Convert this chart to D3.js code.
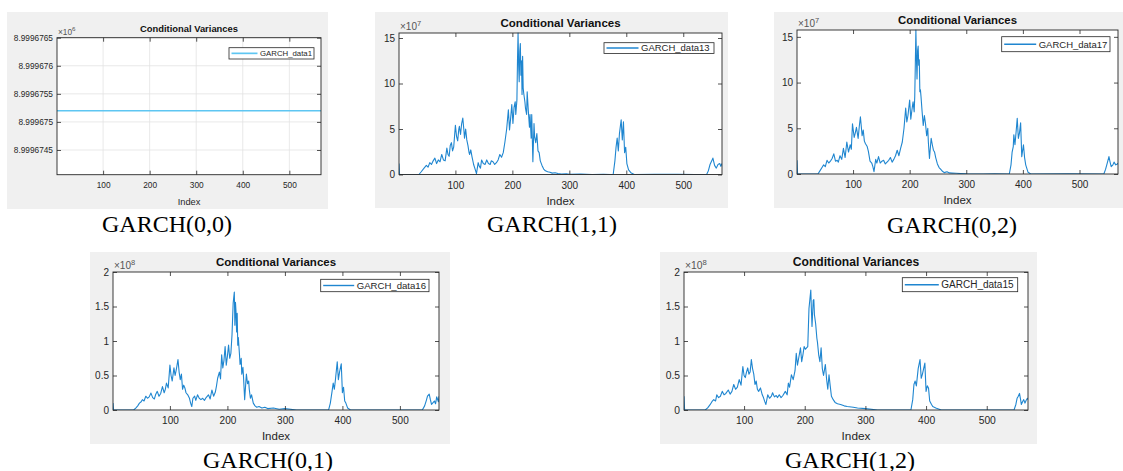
<!DOCTYPE html>
<html>
<head>
<meta charset="utf-8">
<script src="https://cdn.jsdelivr.net/npm/d3@7"></script>
<style>
  body { margin: 0; background: #fff; }
  svg { display: block; }
</style>
</head>
<body>
<svg id="chart" width="1123" height="471"></svg>
<script>
// conditional variances, [index, value] (values in units of the axis exponent)
const garch00 = [[1, 8.9996752], [568, 8.9996752]];

const garch11 = [[1,1.2],[2,0],[36,0],[40,0.3],[45,0.7],[49,1.0],[52,0.8],[55,1.3],[58,1.1],[61,1.5],[64,1.8],[67,1.2],[70,1.6],[73,1.4],[76,2.2],[79,1.6],[82,1.5],[85,2.9],[87,2.2],[89,2.0],[91,3.2],[93,3.5],[95,2.6],[97,3.0],[100,5.4],[102,4.2],[104,3.7],[106,5.0],[107,5.3],[109,4.4],[111,5.6],[113,6.2],[115,4.8],[116,4.0],[118,5.0],[120,3.8],[122,3.2],[124,2.4],[125,2.2],[127,2.7],[129,2.0],[132,1.1],[135,0.5],[137,0.1],[140,1.3],[142,0.9],[144,0.7],[146,1.6],[149,1.2],[152,1.1],[155,1.6],[158,1.2],[161,1.1],[163,1.5],[166,1.4],[169,1.1],[172,1.3],[175,1.6],[178,2.2],[181,1.9],[184,2.4],[187,3.6],[190,5.0],[193,7.1],[195,4.9],[197,6.2],[199,7.7],[201,5.6],[203,7.4],[205,8.0],[206,6.6],[208,8.2],[209,12.5],[210,15.55],[211,12.0],[212,10.2],[213,13.5],[214,14.4],[215,10.9],[216,12.5],[217,8.8],[218,13.0],[219,9.5],[220,8.9],[222,8.0],[223,7.3],[225,6.6],[226,9.1],[228,7.0],[230,5.2],[231,6.6],[233,4.0],[234,6.6],[235,4.0],[236,1.4],[238,5.6],[239,4.2],[241,3.5],[243,4.5],[245,2.6],[247,2.4],[249,1.5],[252,1.0],[255,0.6],[258,0.4],[262,0.3],[266,0.25],[270,0.15],[275,0.2],[280,0.1],[286,0.05],[295,0.08],[300,0.02],[320,0.04],[340,0],[360,0.03],[372,0],[377,0],[380,1.5],[382,3.0],[384,4.0],[386,2.6],[388,4.5],[391,6.0],[393,3.8],[395,5.8],[397,2.4],[399,3.0],[401,1.2],[404,0.5],[408,0.2],[414,0],[450,0.02],[490,0.03],[520,0],[541,0],[544,0.4],[547,1.1],[550,1.5],[552,1.8],[555,1.0],[558,0.7],[561,1.1],[564,1.2],[566,0.9],[568,1.2]];

const garch02 = [[1,1.5],[2,0],[38,0],[42,0.4],[46,0.8],[48,1.0],[51,0.8],[54,1.5],[57,1.2],[60,1.4],[63,1.7],[66,2.2],[69,1.4],[72,1.5],[74,1.3],[77,2.0],[80,1.6],[83,2.8],[86,1.8],[89,3.5],[92,2.4],[95,3.2],[97,2.7],[99,5.5],[102,4.0],[104,4.5],[106,5.1],[109,3.9],[111,5.2],[113,6.25],[115,4.9],[116,4.2],[118,4.8],[120,3.6],[122,3.3],[125,3.0],[127,2.5],[130,1.4],[133,1.2],[135,0.8],[137,0.25],[140,1.6],[142,1.2],[145,1.9],[148,1.2],[151,1.4],[154,1.5],[157,1.1],[160,1.3],[163,1.5],[166,1.8],[169,1.3],[172,1.6],[175,2.0],[178,2.6],[181,2.0],[184,2.8],[187,3.5],[190,5.0],[193,7.2],[195,5.7],[197,6.4],[200,8.1],[202,6.0],[204,7.0],[206,7.9],[208,6.8],[209,8.5],[210,12.0],[211,15.75],[212,12.5],[213,10.4],[214,13.5],[215,14.0],[216,11.9],[217,12.5],[218,9.0],[219,9.2],[220,8.5],[222,6.8],[224,5.3],[226,6.4],[228,5.5],[230,4.2],[232,5.0],[233,3.5],[235,1.7],[237,3.2],[238,3.9],[240,3.2],[242,2.6],[244,2.4],[246,1.8],[249,1.1],[252,0.7],[255,0.5],[258,0.3],[261,0.15],[266,0.25],[270,0.12],[275,0.1],[282,0.08],[290,0.05],[300,0.02],[330,0],[350,0.03],[376,0],[379,1.0],[381,2.4],[383,3.0],[384,4.3],[386,3.2],[388,4.6],[390,6.1],[392,3.9],[394,4.5],[396,5.6],[398,1.9],[401,3.2],[403,1.8],[405,1.0],[409,0.2],[414,0],[480,0.02],[543,0],[546,0.5],[549,1.2],[552,1.9],[554,1.3],[556,0.8],[559,1.0],[561,1.3],[564,1.0],[567,1.1],[568,1.2]];

const garch01 = [[1,0.1],[2,0],[37,0],[41,0.03],[44,0.06],[47,0.10],[50,0.12],[52,0.15],[55,0.13],[58,0.20],[61,0.17],[64,0.19],[67,0.245],[70,0.18],[73,0.16],[75,0.22],[78,0.27],[81,0.20],[84,0.24],[87,0.34],[90,0.25],[92,0.30],[94,0.39],[97,0.32],[100,0.65],[102,0.50],[104,0.42],[107,0.61],[109,0.50],[111,0.58],[114,0.73],[116,0.55],[118,0.44],[120,0.52],[122,0.30],[124,0.36],[126,0.32],[128,0.25],[131,0.22],[134,0.17],[136,0.10],[138,0.05],[140,0.17],[143,0.20],[145,0.14],[148,0.22],[151,0.17],[154,0.15],[157,0.17],[160,0.14],[163,0.18],[167,0.22],[170,0.16],[173,0.29],[176,0.20],[179,0.26],[181,0.35],[183,0.46],[186,0.55],[188,0.45],[190,0.80],[192,0.61],[194,0.72],[196,0.92],[198,0.65],[200,0.78],[202,0.94],[204,0.75],[206,0.82],[208,1.09],[210,1.55],[212,1.71],[213,1.23],[214,1.56],[215,1.42],[216,1.13],[217,1.40],[218,0.94],[219,1.05],[221,0.80],[222,0.66],[224,0.75],[225,0.52],[227,0.62],[228,0.48],[230,0.15],[232,0.40],[233,0.52],[235,0.38],[237,0.42],[238,0.30],[240,0.17],[242,0.22],[245,0.10],[248,0.06],[251,0.04],[255,0.05],[260,0.03],[265,0.04],[270,0.02],[280,0.03],[290,0.01],[300,0.02],[320,0],[376,0],[379,0.1],[382,0.27],[384,0.39],[386,0.30],[388,0.45],[391,0.70],[393,0.44],[395,0.55],[398,0.67],[400,0.25],[402,0.33],[404,0.13],[406,0.10],[409,0.03],[414,0],[539,0],[543,0.06],[546,0.14],[548,0.2],[551,0.23],[553,0.15],[555,0.08],[558,0.11],[560,0.13],[562,0.09],[564,0.19],[567,0.12],[568,0.2]];

const garch12 = [[1,0.2],[2,0],[36,0],[40,0.03],[44,0.077],[47,0.12],[50,0.15],[53,0.13],[55,0.22],[58,0.18],[61,0.20],[64,0.27],[67,0.22],[70,0.24],[74,0.29],[77,0.23],[80,0.27],[83,0.37],[86,0.30],[89,0.33],[92,0.44],[95,0.36],[98,0.63],[100,0.50],[102,0.47],[104,0.55],[106,0.61],[108,0.52],[110,0.55],[112,0.73],[114,0.60],[116,0.52],[118,0.37],[120,0.42],[122,0.30],[124,0.27],[127,0.32],[130,0.22],[132,0.18],[134,0.125],[136,0.08],[139,0.22],[142,0.17],[145,0.20],[147,0.25],[150,0.19],[153,0.21],[155,0.18],[158,0.22],[161,0.18],[164,0.21],[168,0.27],[171,0.22],[173,0.39],[175,0.33],[178,0.51],[181,0.44],[184,0.57],[186,0.82],[188,0.65],[190,0.75],[193,0.90],[195,0.70],[197,0.80],[199,0.92],[201,0.88],[203,0.90],[205,0.92],[207,1.47],[210,1.74],[211,1.45],[212,1.21],[214,1.59],[215,1.60],[216,1.38],[218,1.25],[220,1.04],[221,0.98],[223,0.80],[225,0.70],[227,0.90],[229,0.60],[231,0.50],[234,0.66],[236,0.45],[238,0.30],[240,0.51],[242,0.35],[244,0.20],[247,0.15],[250,0.11],[254,0.09],[259,0.08],[265,0.06],[270,0.05],[280,0.04],[287,0.03],[300,0.02],[320,0],[375,0],[378,0.15],[380,0.37],[382,0.42],[384,0.35],[387,0.60],[390,0.73],[392,0.46],[394,0.52],[396,0.60],[398,0.68],[400,0.27],[402,0.35],[404,0.32],[406,0.13],[409,0.08],[411,0.05],[416,0.03],[425,0],[545,0],[548,0.08],[550,0.17],[552,0.2],[554,0.24],[556,0.14],[557,0.08],[559,0.12],[561,0.15],[563,0.10],[565,0.14],[567,0.17],[568,0.15]];

// axis ticks and labels
const xTicks = [100, 200, 300, 400, 500];
const yTicks00 = [8.9996745, 8.999675, 8.9996755, 8.999676, 8.9996765];
const yLabels00 = ["8.9996745", "8.999675", "8.9996755", "8.999676", "8.9996765"];
const yTicks1e7 = [0, 5, 10, 15];
const yTicks1e8 = [0, 0.5, 1, 1.5, 2];

const panels = [
  { data: garch00, name: "GARCH_data1", caption: "GARCH(0,0)", exp: "6",
    yDomain: [8.99967406, 8.9996765], yTicks: yTicks00, yLabels: yLabels00, grid: true, color: "#5ec6f2", lw: 1.4,
    bg: [7, 12, 321, 197], plot: [57, 37.7, 264, 137], fs: 8.3, titleFs: 9.4, labFs: 9.3,
    legend: [229, 47.7, 85, 11.3], sample: 26, legFs: 7.8, capX: 167, capY: 232 },
  { data: garch11, name: "GARCH_data13", caption: "GARCH(1,1)", exp: "7",
    yDomain: [0, 15.55], yTicks: yTicks1e7, grid: false, color: "#1f86d0", lw: 1.1,
    bg: [375, 12, 353, 196], plot: [399, 33, 323, 141.5], fs: 10, titleFs: 11.5, labFs: 11.5,
    legend: [604, 42.7, 110, 10.7], sample: 32, legFs: 9.5, capX: 552, capY: 232 },
  { data: garch02, name: "GARCH_data17", caption: "GARCH(0,2)", exp: "7",
    yDomain: [0, 15.75], yTicks: yTicks1e7, grid: false, color: "#1f86d0", lw: 1.1,
    bg: [774, 12, 349, 196], plot: [797, 30, 321, 144], fs: 10, titleFs: 11.4, labFs: 11.5,
    legend: [1001.7, 36.7, 108.3, 15], sample: 32, legFs: 9.5, capX: 952, capY: 233 },
  { data: garch01, name: "GARCH_data16", caption: "GARCH(0,1)", exp: "8",
    yDomain: [0, 2], yTicks: yTicks1e8, grid: false, color: "#1f86d0", lw: 1.1,
    bg: [90, 252, 360, 192], plot: [113, 272, 326, 138], fs: 10, titleFs: 11.5, labFs: 11.5,
    legend: [320.7, 279.3, 108.3, 12.4], sample: 31, legFs: 9.6, capX: 268, capY: 467.5 },
  { data: garch12, name: "GARCH_data15", caption: "GARCH(1,2)", exp: "8",
    yDomain: [0, 2], yTicks: yTicks1e8, grid: false, color: "#1f86d0", lw: 1.1,
    bg: [660, 252, 377, 192], plot: [684, 272, 344, 138], fs: 10.3, titleFs: 12.1, labFs: 11.8,
    legend: [902.3, 277.7, 115.4, 14], sample: 34, legFs: 10, capX: 850, capY: 467.5 }
];

const svg = d3.select("#chart");
const sans = "'Liberation Sans', Arial, Helvetica, sans-serif";
const ink = "#262626";

panels.forEach((p, i) => {
  const [bx, by, bw, bh] = p.bg;
  const [px, py, pw, ph] = p.plot;
  const g = svg.append("g");

  g.append("rect").attr("x", bx).attr("y", by).attr("width", bw).attr("height", bh).attr("fill", "#f0f0f0");
  g.append("rect").attr("x", px).attr("y", py).attr("width", pw).attr("height", ph).attr("fill", "#fff");

  const x = d3.scaleLinear().domain([1, 568]).range([px, px + pw]);
  const y = d3.scaleLinear().domain(p.yDomain).range([py + ph, py]);

  // grid (only the first figure has it)
  if (p.grid) {
    g.append("g").selectAll("line").data(xTicks).join("line")
      .attr("x1", d => x(d)).attr("x2", d => x(d)).attr("y1", py).attr("y2", py + ph)
      .attr("stroke", "#e3e3e3").attr("stroke-width", 0.8);
    g.append("g").selectAll("line").data(p.yTicks).join("line")
      .attr("x1", px).attr("x2", px + pw).attr("y1", d => y(d)).attr("y2", d => y(d))
      .attr("stroke", "#e3e3e3").attr("stroke-width", 0.8);
  }

  // series
  g.append("clipPath").attr("id", "clip" + i)
    .append("rect").attr("x", px).attr("y", py - 1).attr("width", pw).attr("height", ph + 1);
  g.append("path")
    .datum(p.data)
    .attr("clip-path", `url(#clip${i})`)
    .attr("fill", "none")
    .attr("stroke", p.color)
    .attr("stroke-width", p.lw)
    .attr("stroke-linejoin", "round")
    .attr("d", d3.line().x(d => x(d[0])).y(d => y(d[1])));

  // axes, ticks pointing inward on all four sides
  const styleAxis = sel => {
    sel.select(".domain").remove();
    sel.selectAll("line").attr("stroke", ink).attr("stroke-width", 0.8);
    sel.selectAll("text").attr("fill", ink).attr("font-family", sans).attr("font-size", p.fs);
  };
  const yFmt = p.yLabels ? (d, k) => p.yLabels[k] : d => d;

  g.append("g").attr("transform", `translate(0,${py + ph})`)
    .call(d3.axisBottom(x).tickValues(xTicks).tickSize(-4).tickPadding(7))
    .call(styleAxis);
  g.append("g").attr("transform", `translate(0,${py})`)
    .call(d3.axisTop(x).tickValues(xTicks).tickSize(-4).tickFormat(""))
    .call(styleAxis);
  g.append("g").attr("transform", `translate(${px},0)`)
    .call(d3.axisLeft(y).tickValues(p.yTicks).tickSize(-4).tickPadding(4).tickFormat(yFmt))
    .call(styleAxis);
  g.append("g").attr("transform", `translate(${px + pw},0)`)
    .call(d3.axisRight(y).tickValues(p.yTicks).tickSize(-4).tickFormat(""))
    .call(styleAxis);

  g.append("rect").attr("x", px).attr("y", py).attr("width", pw).attr("height", ph)
    .attr("fill", "none").attr("stroke", ink).attr("stroke-width", 0.9);

  // exponent
  const ex = g.append("text").attr("x", px + 1).attr("y", py - 3)
    .attr("font-family", sans).attr("font-size", p.fs).attr("fill", "#555");
  ex.append("tspan").text("\u00d710");
  ex.append("tspan").attr("dy", -4).attr("font-size", p.fs * 0.75).text(p.exp);

  // title and x label
  g.append("text").attr("x", px + pw / 2).attr("y", py - 6)
    .attr("text-anchor", "middle").attr("font-family", sans).attr("font-weight", "bold")
    .attr("font-size", p.titleFs).attr("fill", "#111").text("Conditional Variances");
  g.append("text").attr("x", px + pw / 2).attr("y", py + ph + 30)
    .attr("text-anchor", "middle").attr("font-family", sans)
    .attr("font-size", p.labFs).attr("fill", ink).text("Index");

  // legend
  const [lx, ly, lw, lh] = p.legend;
  g.append("rect").attr("x", lx).attr("y", ly).attr("width", lw).attr("height", lh)
    .attr("fill", "#fff").attr("stroke", ink).attr("stroke-width", 0.8);
  g.append("line").attr("x1", lx + 2.5).attr("x2", lx + 2.5 + p.sample).attr("y1", ly + lh / 2).attr("y2", ly + lh / 2)
    .attr("stroke", p.color).attr("stroke-width", p.lw + 0.3);
  g.append("text").attr("x", lx + p.sample + 5).attr("y", ly + lh / 2).attr("dy", "0.35em")
    .attr("font-family", sans).attr("font-size", p.legFs).attr("fill", ink).text(p.name);

  // caption under the figure
  svg.append("text").attr("x", p.capX).attr("y", p.capY)
    .attr("text-anchor", "middle").attr("font-family", "'Liberation Serif', 'Times New Roman', serif")
    .attr("font-size", 24).attr("fill", "#000").text(p.caption);
});
</script>
</body>
</html>
